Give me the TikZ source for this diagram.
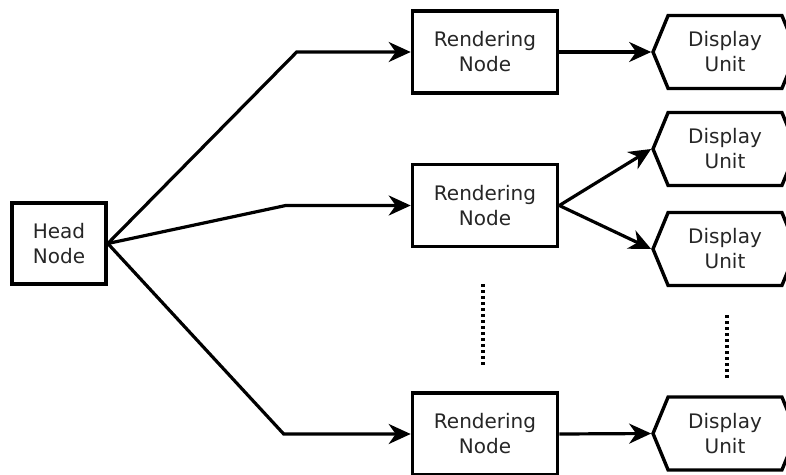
\documentclass[tikz,border=0pt]{standalone}
\usepackage{fontspec}
\setsansfont{DejaVu Sans}
\usetikzlibrary{
  arrows.meta,
  shapes.symbols,
  positioning,
  calc
}
\definecolor{dgText}{HTML}{262626}
\definecolor{dgLine}{HTML}{000000}

\tikzset{
  rendbox/.style={draw=dgLine, line width=3.6pt, fill=white, minimum width=145pt,
    minimum height=82pt, inner sep=0pt, align=center, text=dgText},
  headbox/.style={rendbox, minimum width=94pt, minimum height=81pt},
  dispunit/.style={draw=dgLine, line width=3.4pt, fill=white, signal,
    signal to=west and east, signal pointer angle=135, minimum width=144pt,
    minimum height=73pt, inner sep=0pt, align=center, text=dgText},
  link/.style={draw=dgLine, line width=3.2pt,
    -{Stealth[length=22pt, width=20pt, inset=7pt]}},
  vdots/.style={draw=dgLine, line width=3.4pt, dash pattern=on 3pt off 3pt}
}

\begin{document}
\begin{tikzpicture}[x=1pt, y=-1pt, font=\sffamily\fontsize{20}{25}\selectfont]
  \useasboundingbox (0,0) rectangle (786,474);
  \clip (0,0) rectangle (786,474);

  % nodes
  \node[headbox] (head) at (59,243.5) {Head\\Node};
  \foreach \i/\y in {1/52, 2/205.5, 3/434}{
    \node[rendbox] (rend\i) at (485,\y) {Rendering\\Node};
  }
  \foreach \i/\y in {1/52, 2/149, 3/249, 4/433.5}{
    \node[dispunit] (disp\i) at (725,\y) {Display\\Unit};
  }

  % head node to rendering nodes
  \draw[link] (head.east) -- ([xshift=-114pt]rend1.west) -- (rend1.west);
  \draw[link] (head.east) -- ([xshift=-125pt]rend2.west) -- (rend2.west);
  \draw[link] (head.east) -- ([xshift=-127pt]rend3.west) -- (rend3.west);

  % rendering nodes to display units
  \draw[link] (rend1.east) -- (disp1.west);
  \draw[link] (rend2.east) -- (disp2.west);
  \draw[link] (rend2.east) -- (disp3.west);
  \draw[link] (rend3.east) -- (disp4.west);

  % more of the same
  \draw[vdots] ($(rend2.south)+(-2,36)$) -- ($(rend2.south)+(-2,118)$);
  \draw[vdots] ($(disp3.south)+(2,28)$) -- ($(disp3.south)+(2,92)$);
\end{tikzpicture}
\end{document}
